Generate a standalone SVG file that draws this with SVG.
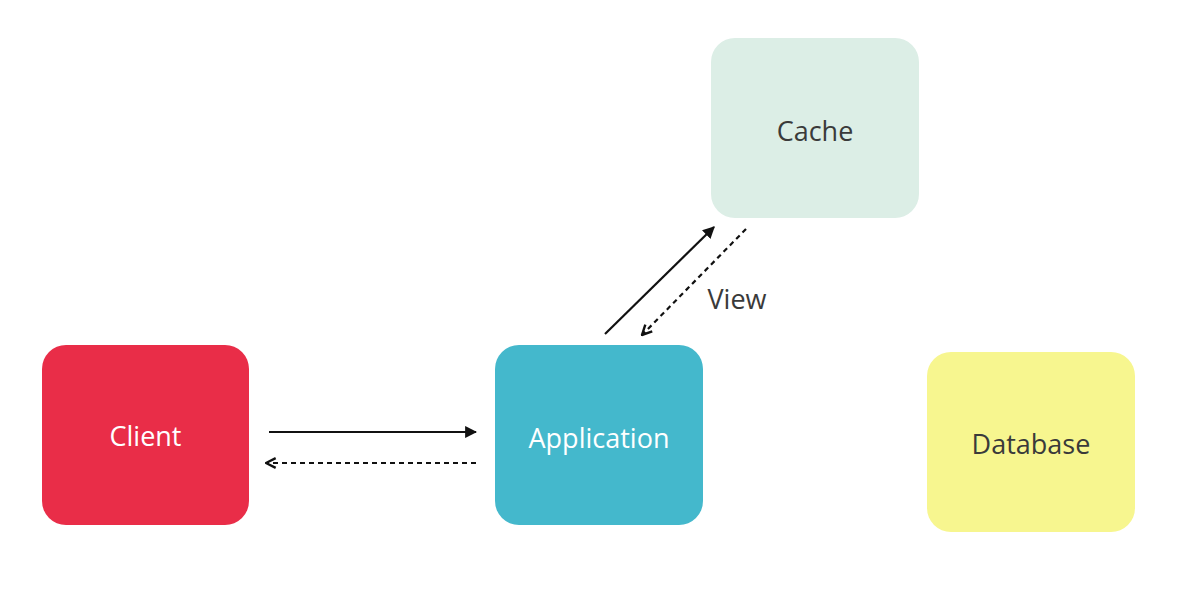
<svg xmlns="http://www.w3.org/2000/svg" width="1190" height="602" viewBox="0 0 1190 602">
<style>
.lbl{font-family:"Open Sans","Noto Sans",sans-serif;font-size:27px;text-anchor:middle;dominant-baseline:central}
.w{fill:#ffffff}
.d{fill:#3a3a3a}
.c{stroke:#111;stroke-width:2.2;fill:none}
.dash{stroke-dasharray:5 4}
</style>
<defs>
<marker id="ah" viewBox="0 0 10 10" refX="9" refY="5" markerWidth="5.5" markerHeight="5.5" orient="auto" markerUnits="strokeWidth">
<path d="M0,0 L10,5 L0,10 z" fill="#111"/>
</marker>
<marker id="oh" viewBox="0 0 10 10" refX="9" refY="5" markerWidth="5.5" markerHeight="5.5" orient="auto" markerUnits="strokeWidth">
<path d="M1,1 L9,5 L1,9" fill="none" stroke="#111" stroke-width="2"/>
</marker>
</defs>
<rect width="1190" height="602" fill="#ffffff"/>
<g id="client">
<rect x="42" y="345" width="207" height="180" rx="24" fill="#E92D48"/>
<text class="lbl w" x="145.5" y="435">Client</text>
</g>
<g id="application">
<rect x="495" y="345" width="208" height="180" rx="24" fill="#44B8CC"/>
<text class="lbl w" x="599" y="437">Application</text>
</g>
<g id="cache">
<rect x="711" y="38" width="208" height="180" rx="24" fill="#DCEEE6"/>
<text class="lbl d" x="815" y="130">Cache</text>
</g>
<g id="database">
<rect x="927" y="352" width="208" height="180" rx="24" fill="#F7F68F"/>
<text class="lbl d" x="1031" y="443">Database</text>
</g>
<g id="connectors">
<line class="c" x1="269" y1="432" x2="476" y2="432" marker-end="url(#ah)"/>
<line class="c dash" x1="476" y1="463" x2="266" y2="463" marker-end="url(#oh)"/>
<line class="c" x1="605" y1="334" x2="714" y2="227" marker-end="url(#ah)"/>
<line class="c dash" x1="746" y1="229" x2="642" y2="335" marker-end="url(#oh)"/>
<text class="lbl d" x="737" y="298">View</text>
</g>
</svg>
